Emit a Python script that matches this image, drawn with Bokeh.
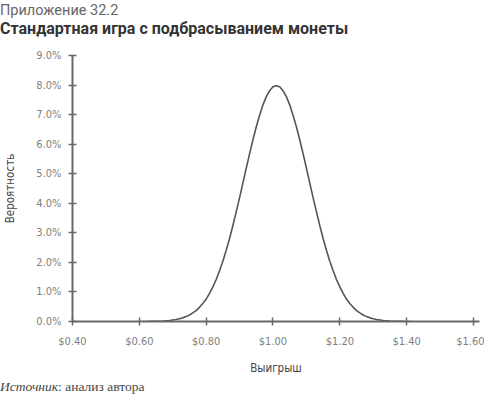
from bokeh.plotting import figure
from bokeh.models import NumeralTickFormatter, FixedTicker, Range1d, Div
from bokeh.layouts import column
from bokeh.embed import file_html
from bokeh.resources import INLINE

# data: payoff ($) and probability (%)
payoff = [0.61, 0.63, 0.65, 0.67, 0.69, 0.71,
          0.72, 0.73, 0.74, 0.75, 0.76, 0.77, 0.78, 0.79, 0.80, 0.81,
          0.82, 0.83, 0.84, 0.85, 0.86, 0.87, 0.88, 0.89, 0.90, 0.91,
          0.92, 0.93, 0.94, 0.95, 0.96, 0.97, 0.98, 0.99, 1.00,
          1.01,
          1.02, 1.03, 1.04, 1.05, 1.06, 1.07, 1.08, 1.09, 1.10, 1.11,
          1.12, 1.13, 1.14, 1.15, 1.16, 1.17, 1.18, 1.19, 1.20, 1.21,
          1.22, 1.23, 1.24, 1.25, 1.26, 1.27, 1.28, 1.29, 1.30,
          1.31, 1.33, 1.35, 1.37, 1.39, 1.41]
prob_pct = [0.002, 0.004, 0.008, 0.017, 0.034, 0.067,
            0.091, 0.123, 0.165, 0.22, 0.29, 0.37, 0.48, 0.61, 0.76, 0.95,
            1.17, 1.42, 1.72, 2.04, 2.41, 2.81, 3.25, 3.71, 4.19, 4.69,
            5.19, 5.68, 6.15, 6.59, 6.98, 7.33, 7.61, 7.81, 7.94,
            7.98,
            7.94, 7.81, 7.61, 7.33, 6.98, 6.59, 6.15, 5.68, 5.19, 4.69,
            4.19, 3.71, 3.25, 2.81, 2.41, 2.04, 1.72, 1.42, 1.17, 0.95,
            0.76, 0.61, 0.48, 0.37, 0.29, 0.22, 0.165, 0.123, 0.091,
            0.067, 0.034, 0.017, 0.008, 0.004, 0.002]
prob = [v / 100 for v in prob_pct]

x_ticks = [0.40, 0.60, 0.80, 1.00, 1.20, 1.40, 1.60]
y_ticks = [0.00, 0.01, 0.02, 0.03, 0.04, 0.05, 0.06, 0.07, 0.08, 0.09]

title1 = "Приложение 32.2"
title2 = "Стандартная игра с подбрасыванием монеты"
x_label = "Выигрыш"
y_label = "Вероятность"
source_italic = "Источник"
source_rest = ": анализ автора"

W = 484
TITLE_H, SRC_H = 47, 18
H = 330
ML, MR, MT, MB = 72, 5, 8, 55

head = Div(text=(f'<div style="padding-top:2px;font-family:Roboto,sans-serif;font-size:14.5px;line-height:18px;'
                 f'color:#666666;white-space:nowrap;">{title1}</div>'
                 f'<div style="font-family:Roboto,sans-serif;font-size:16px;line-height:18px;'
                 f'font-weight:bold;color:#333333;white-space:nowrap;">{title2}</div>'),
           width=W, height=TITLE_H, styles={"margin": "0", "padding": "0"})

p = figure(width=W, height=H, output_backend="svg", toolbar_location=None,
           min_border_left=ML, min_border_right=MR, min_border_top=MT, min_border_bottom=MB,
           x_range=Range1d(0.40, 1.618), y_range=Range1d(0.0, 0.09))
p.outline_line_color = None
p.grid.grid_line_color = None
p.background_fill_color = "white"
p.border_fill_color = "white"

p.line(payoff, prob, line_color="#555555", line_width=1.6)

axis_color = "#686868"
tick_font = "'DejaVu Sans Condensed', 'Liberation Sans Narrow', 'Roboto Condensed', Roboto, sans-serif"
for ax in (p.xaxis[0], p.yaxis[0]):
    ax.axis_line_color = axis_color
    ax.axis_line_width = 2
    ax.major_tick_line_color = axis_color
    ax.major_tick_line_width = 1.5
    ax.major_tick_out = 4
    ax.major_tick_in = 4
    ax.minor_tick_line_color = None
    ax.major_label_text_font = tick_font
    ax.major_label_text_font_size = "11px"
    ax.major_label_text_color = "#808080"
    ax.axis_label_text_font = tick_font
    ax.axis_label_text_font_size = "11.5px"
    ax.axis_label_text_font_style = "normal"
    ax.axis_label_text_color = "#444444"

p.xaxis.ticker = FixedTicker(ticks=x_ticks)
p.xaxis.formatter = NumeralTickFormatter(format="$0.00")
p.xaxis.major_label_standoff = 9
p.xaxis.axis_label = x_label
p.xaxis.axis_label_standoff = 10

p.yaxis.ticker = FixedTicker(ticks=y_ticks)
p.yaxis.formatter = NumeralTickFormatter(format="0.0%")
p.yaxis.major_label_standoff = 7
p.yaxis.axis_label = y_label
p.yaxis.axis_label_standoff = 16

src = Div(text=f'<span style="font-family:\'Liberation Serif\',serif;font-size:13.5px;color:#444444;">'
               f'<i>{source_italic}</i>{source_rest}</span>',
          width=W, height=SRC_H, styles={"margin": "0", "padding": "0"})

layout = column(head, p, src, spacing=0)

open("out.html", "w").write(file_html(layout, INLINE))
